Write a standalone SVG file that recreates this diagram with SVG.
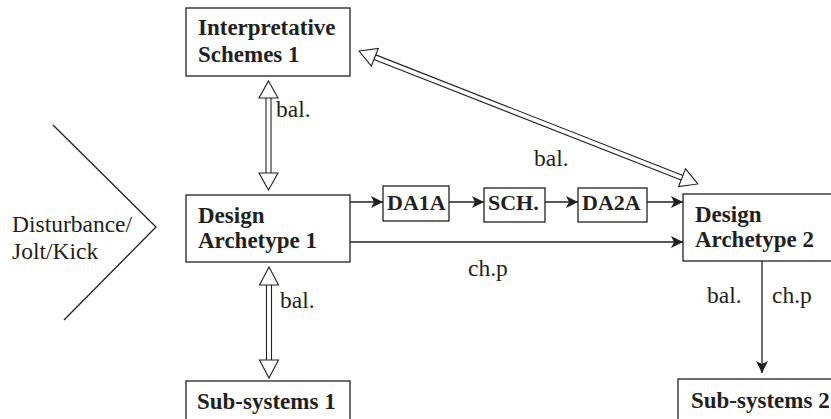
<svg xmlns="http://www.w3.org/2000/svg" width="831" height="419" viewBox="0 0 831 419">
  <style>
    .box { fill: #ffffff; stroke: #231f20; stroke-width: 1.3; }
    .lbl { font-family: "Liberation Serif", "Times New Roman", serif; font-size: 23.5px; fill: #231f20; }
    .bold { font-family: "Liberation Serif", "Times New Roman", serif; font-size: 23px; font-weight: bold; fill: #231f20; }
    .small { font-size: 22px; }
    .wire { fill: none; stroke: #231f20; stroke-width: 1.3; }
    .rail { fill: none; stroke: #231f20; stroke-width: 1.1; }
    .dbl { fill: #ffffff; stroke: #231f20; stroke-width: 1.1; }
  </style>
  <defs>
    <marker id="head" markerUnits="userSpaceOnUse" markerWidth="14" markerHeight="14" viewBox="0 0 14 14" refX="13" refY="7" orient="auto">
      <path d="M1,1 L13,7 L1,13 L4,7 Z" fill="#231f20"/>
    </marker>
  </defs>

  <!-- disturbance chevron -->
  <g id="disturbance">
    <polyline class="wire" points="53,125 156,227 64,320"/>
    <text class="lbl" x="12" y="232">Disturbance/</text>
    <text class="lbl" x="12" y="259">Jolt/Kick</text>
  </g>

  <g id="connectors">
    <!-- Interpretative Schemes 1 <-> Design Archetype 1 -->
    <g>
      <line class="rail" x1="266" y1="98" x2="266" y2="173"/>
      <line class="rail" x1="271" y1="98" x2="271" y2="173"/>
      <polygon class="dbl" points="268.5,81 278,98 259,98"/>
      <polygon class="dbl" points="268.5,190 278,173 259,173"/>
    </g>
    <!-- Design Archetype 1 <-> Sub-systems 1 -->
    <g>
      <line class="rail" x1="266.5" y1="285" x2="266.5" y2="360"/>
      <line class="rail" x1="271.5" y1="285" x2="271.5" y2="360"/>
      <polygon class="dbl" points="269,267 278.5,285 259.5,285"/>
      <polygon class="dbl" points="269,378 278.5,360 259.5,360"/>
    </g>
    <!-- Interpretative Schemes 1 <-> Design Archetype 2 (diagonal) -->
    <g transform="translate(359,51) rotate(21.42)">
      <line class="rail" x1="17" y1="-2.5" x2="347" y2="-2.5"/>
      <line class="rail" x1="17" y1="2.5" x2="347" y2="2.5"/>
      <polygon class="dbl" points="0,0 17,-9.5 17,9.5"/>
      <polygon class="dbl" points="364,0 347,-9.5 347,9.5"/>
    </g>
    <!-- transition chain -->
    <line class="wire" x1="350" y1="202" x2="383" y2="202" marker-end="url(#head)"/>
    <line class="wire" x1="449" y1="202" x2="484" y2="202" marker-end="url(#head)"/>
    <line class="wire" x1="545" y1="202" x2="578" y2="202" marker-end="url(#head)"/>
    <line class="wire" x1="647" y1="202" x2="683" y2="202" marker-end="url(#head)"/>
    <!-- direct change path -->
    <line class="wire" x1="350" y1="242" x2="683" y2="242" marker-end="url(#head)"/>
    <!-- Design Archetype 2 -> Sub-systems 2 -->
    <line class="wire" x1="762" y1="261" x2="762" y2="373" marker-end="url(#head)"/>
    <!-- connector labels -->
    <text class="lbl" x="276" y="117">bal.</text>
    <text class="lbl" x="280" y="308">bal.</text>
    <text class="lbl" x="534" y="166">bal.</text>
    <text class="lbl" x="468" y="276">ch.p</text>
    <text class="lbl" x="707" y="303">bal.</text>
    <text class="lbl" x="772" y="303">ch.p</text>
  </g>

  <g id="interpretative-schemes-1">
    <rect class="box" x="186" y="8" width="164" height="68"/>
    <text class="bold" x="198" y="35">Interpretative</text>
    <text class="bold" x="198" y="62">Schemes 1</text>
  </g>

  <g id="design-archetype-1">
    <rect class="box" x="186" y="195" width="164" height="67"/>
    <text class="bold" x="198" y="223">Design</text>
    <text class="bold" x="198" y="248">Archetype 1</text>
  </g>

  <g id="sub-systems-1">
    <rect class="box" x="186" y="381" width="164" height="50"/>
    <text class="bold" x="197" y="409">Sub-systems 1</text>
  </g>

  <g id="da1a">
    <rect class="box" x="383" y="186" width="66" height="35"/>
    <text class="bold small" x="387" y="210">DA1A</text>
  </g>

  <g id="sch">
    <rect class="box" x="484" y="188" width="61" height="34"/>
    <text class="bold small" x="488" y="210">SCH.</text>
  </g>

  <g id="da2a">
    <rect class="box" x="578" y="188" width="69" height="34"/>
    <text class="bold small" x="582" y="210">DA2A</text>
  </g>

  <g id="design-archetype-2">
    <rect class="box" x="683" y="194" width="160" height="67"/>
    <text class="bold" x="695" y="222">Design</text>
    <text class="bold" x="695" y="247">Archetype 2</text>
  </g>

  <g id="sub-systems-2">
    <rect class="box" x="678" y="379" width="170" height="50"/>
    <text class="bold" x="691" y="408">Sub-systems 2</text>
  </g>
</svg>
